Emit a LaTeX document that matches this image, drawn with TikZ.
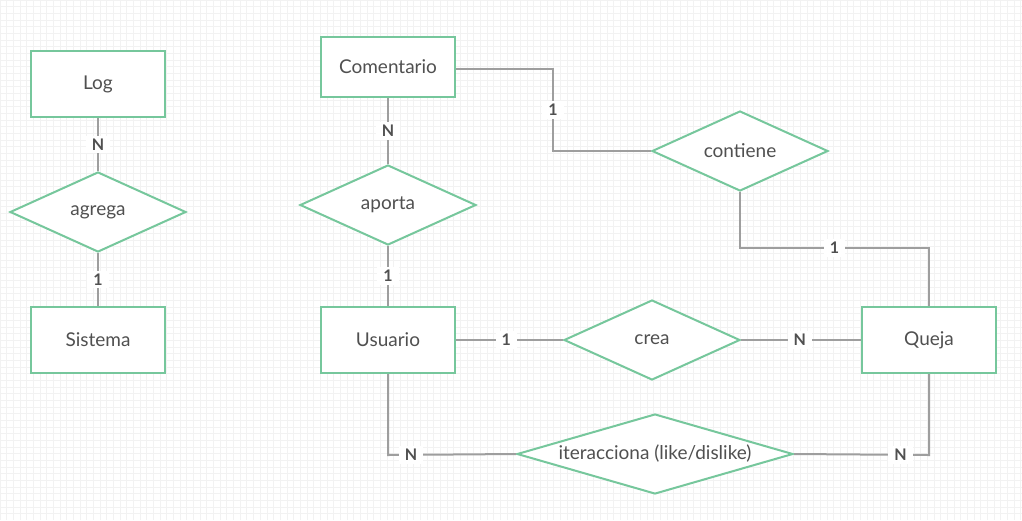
\documentclass[tikz,border=0pt]{standalone}
\usepackage{fontspec}
\setmainfont{Lato}
\usetikzlibrary{shapes.geometric}

\definecolor{verdeer}{RGB}{118,199,156}
\definecolor{grislinea}{RGB}{158,158,158}
\definecolor{gristexto}{RGB}{80,80,80}
\definecolor{grisrejilla}{RGB}{242,242,242}

\begin{document}
\begin{tikzpicture}[x=1pt, y=-1pt,
  entidad/.style={draw=verdeer, line width=2pt, fill=white, minimum width=134pt, minimum height=66pt, text=gristexto, font=\fontsize{19}{22}\selectfont},
  relacion/.style={diamond, aspect=2.2, draw=verdeer, line width=2pt, fill=white, inner sep=0pt, minimum width=176pt, minimum height=80pt, text=gristexto, font=\fontsize{19}{22}\selectfont},
  enlace/.style={draw=grislinea, line width=2pt},
  card/.style={fill=white, inner xsep=6pt, inner ysep=3pt, text=gristexto, font=\bfseries\fontsize{16}{18}\selectfont}]
\useasboundingbox (0,0) rectangle (1022,520);
% fondo cuadriculado
\fill[white] (0,0) rectangle (1022,520);
\foreach \gx in {0,6.67,...,1022} \draw[grisrejilla, line width=0.6pt] (\gx,0) -- (\gx,520);
\foreach \gy in {0,6.67,...,520} \draw[grisrejilla, line width=0.6pt] (0,\gy) -- (1022,\gy);

% entidades
\node[entidad] (log) at (98,84) {Log};
\node[entidad] (sistema) at (98,340) {Sistema};
\node[entidad, minimum height=60pt] (comentario) at (388,67) {Comentario};
\node[entidad] (usuario) at (388,340) {Usuario};
\node[entidad] (queja) at (929,340) {Queja};

% relaciones
\node[relacion] (agrega) at (98,212) {agrega};
\node[relacion] (aporta) at (388,205) {aporta};
\node[relacion] (contiene) at (740,151) {contiene};
\node[relacion] (crea) at (652,340) {crea};
\node[relacion, aspect=3.45, minimum width=276pt] (iteracciona) at (655,454) {iteracciona (like/dislike)};

% puntos de quiebre
\coordinate (q1) at (553,69);
\coordinate (q2) at (740,248);
\coordinate (q3) at (388,455);
\coordinate (q4) at (929,455);

% conexiones
\draw[enlace] (log) -- node[card] {N} (agrega);
\draw[enlace] (agrega) -- node[card] {1} (sistema);
\draw[enlace] (comentario) -- node[card] {N} (aporta);
\draw[enlace] (aporta) -- node[card] {1} (usuario);
\draw[enlace] (comentario.east |- q1) -- (q1) -- node[card] {1} (q1 |- contiene.west) -- (contiene.west);
\draw[enlace] (contiene.south) -- (q2) -- node[card] {1} (q2 -| queja.north) -- (queja.north);
\draw[enlace] (usuario.east) -- node[card, pos=0.47] {1} (crea.west);
\draw[enlace] (crea.east) -- node[card, pos=0.49] {N} (queja.west);
\draw[enlace] (usuario.south) -- (q3) -- node[card, pos=0.18] {N} (iteracciona.west);
\draw[enlace] (queja.south) -- (q4) -- node[card, pos=0.21] {N} (iteracciona.east);
\end{tikzpicture}
\end{document}
